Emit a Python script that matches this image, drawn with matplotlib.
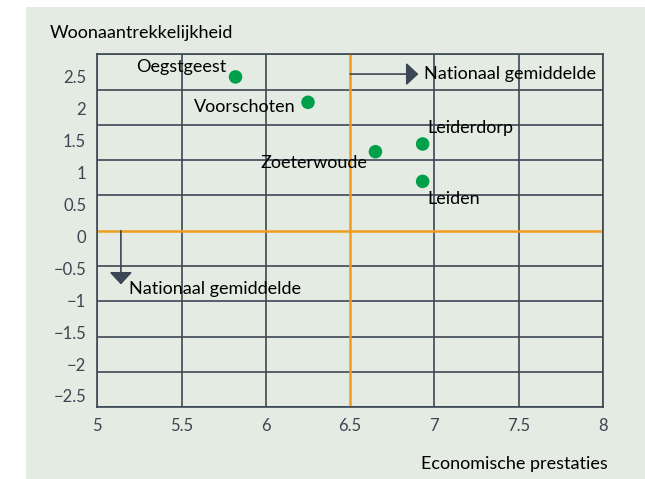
import matplotlib
matplotlib.use("Agg")
import matplotlib.pyplot as plt
from matplotlib.patches import Rectangle

plt.rcParams['font.family'] = ['Lato', 'DejaVu Sans']

# data
places = ["Oegstgeest", "Voorschoten", "Zoeterwoude", "Leiderdorp", "Leiden"]
economy = [5.82, 6.25, 6.65, 6.93, 6.93]
living = [2.18, 1.82, 1.12, 1.23, 0.70]
x_ticks = [5, 5.5, 6, 6.5, 7, 7.5, 8]
y_ticks = [2.5, 2, 1.5, 1, 0.5, 0, -0.5, -1, -1.5, -2, -2.5]
nat_x = 6.5
nat_y = 0

bg = "#e3ebe2"
grid_col = "#3b4754"
orange = "#f29c1f"
green = "#00a04b"

fig = plt.figure(figsize=(6.45, 4.79), dpi=100)
fig.patches.append(Rectangle((26 / 645, 0), 1, 472 / 479, transform=fig.transFigure,
                             facecolor=bg, edgecolor="none", zorder=-10))
ax = fig.add_axes([97.3 / 645, 1 - 407.3 / 479, (603 - 97.3) / 645, (407.3 - 54.3) / 479])
ax.set_facecolor("none")
ax.set_xlim(5, 8)
ax.set_ylim(-2.5, 2.5)

# grid
for gx in x_ticks:
    if gx != nat_x:
        ax.axvline(gx, color=grid_col, lw=1.2, zorder=1)
for gy in y_ticks:
    if gy != nat_y:
        ax.axhline(gy, color=grid_col, lw=1.2, zorder=1)
ax.axvline(nat_x, color=orange, lw=1.8, zorder=2)
ax.axhline(nat_y, color=orange, lw=1.8, zorder=2)
for s in ax.spines.values():
    s.set_color(grid_col)
    s.set_linewidth(1.2)

# tick labels (spaced a bit tighter than the grid, like the original)
ax.set_xticks(x_ticks, [str(v) for v in x_ticks])
lbl_pos = [-0.078 + 0.9045 * v for v in y_ticks]
ax.set_yticks(lbl_pos, [str(v).replace("-", "\u2212") for v in y_ticks])
ax.tick_params(length=0, labelsize=12, colors="#3a4652", pad=8)
ax.tick_params(axis="x", pad=8)

# points
ax.scatter(economy, living, s=95, color=green, zorder=5, edgecolors="none")

fs = 13
ax.text(5.763, 2.325, "Oegstgeest", ha="right", va="center", fontsize=fs, zorder=6)
ax.text(6.179, 1.751, "Voorschoten", ha="right", va="center", fontsize=fs, zorder=6)
ax.text(6.601, 0.96, "Zoeterwoude", ha="right", va="center", fontsize=fs, zorder=6)
ax.text(6.957, 1.454, "Leiderdorp", ha="left", va="center", fontsize=fs, zorder=6)
ax.text(6.957, 0.45, "Leiden", ha="left", va="center", fontsize=fs, zorder=6)

# national average arrows
arrow = dict(arrowstyle="-|>,head_length=0.75,head_width=0.7", color=grid_col, lw=1.2,
             shrinkA=0, shrinkB=0)
ax.annotate("", xy=(6.905, 2.22), xytext=(nat_x, 2.22), arrowprops=arrow, zorder=6)
ax.text(6.94, 2.22, "Nationaal gemiddelde", ha="left", va="center", fontsize=fs, zorder=6)
ax.annotate("", xy=(5.14, -0.76), xytext=(5.14, nat_y), arrowprops=arrow, zorder=6)
ax.text(5.19, -0.83, "Nationaal gemiddelde", ha="left", va="center", fontsize=fs, zorder=6)

fig.text(50 / 645, 1 - 33.3 / 479, "Woonaantrekkelijkheid", ha="left", va="center", fontsize=fs)
fig.text(608 / 645, 1 - 464 / 479, "Economische prestaties", ha="right", va="center", fontsize=fs)

fig.savefig("out.png", dpi=100)
